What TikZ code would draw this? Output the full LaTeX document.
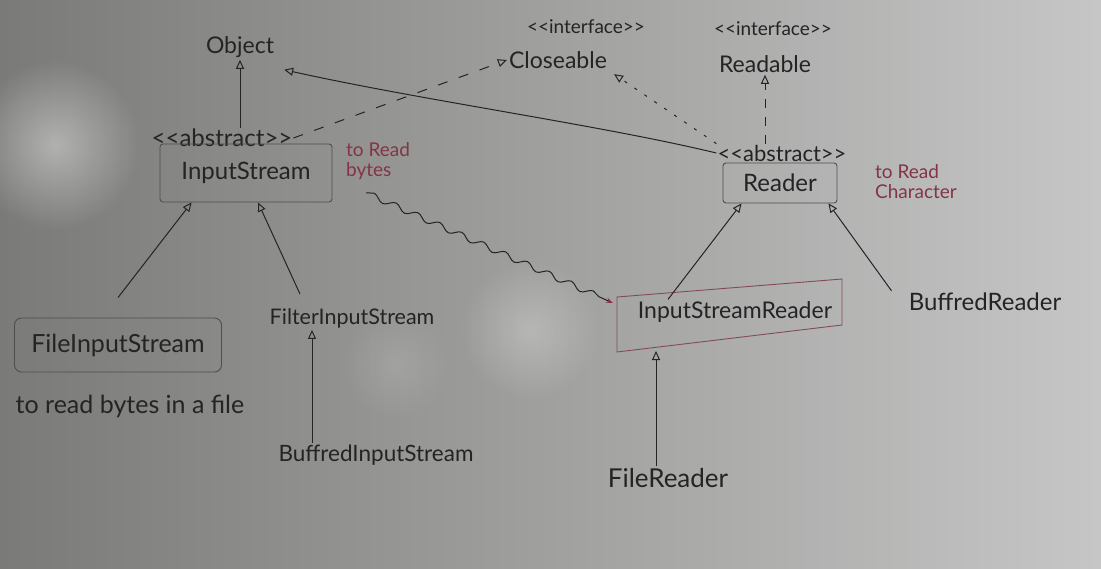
\documentclass[tikz,border=0pt]{standalone}
\usepackage{fontspec}
\setmainfont{Lato}
\usetikzlibrary{arrows.meta,decorations.pathmorphing,fadings}
\definecolor{ink}{RGB}{36,36,36}
\definecolor{boxc}{RGB}{78,78,78}
\definecolor{note}{RGB}{132,52,70}
\definecolor{bgL}{RGB}{122,122,120}
\definecolor{bgR}{RGB}{198,198,198}
\tikzfading[name=glow, inner color=transparent!0, outer color=transparent!100]
\begin{document}
\begin{tikzpicture}[x=1pt,y=-1pt,
  cls/.style={text=ink,font=\fontsize{23}{26}\selectfont,inner sep=2pt},
  stereo/.style={text=ink,font=\fontsize{24}{26}\selectfont,inner sep=1pt},
  small/.style={text=ink,font=\fontsize{19}{21}\selectfont,inner sep=1pt},
  notes/.style={text=note,font=\fontsize{19}{20}\selectfont,align=left,inner sep=1pt},
  box/.style={draw=boxc,line width=0.9pt,rounded corners=3pt},
  link/.style={draw=ink,line width=1pt},
  gen/.style={link,-{Triangle[open,length=9pt,width=8pt]}},
]
\useasboundingbox (0,0) rectangle (1101,568);
\shade[left color=bgL,right color=bgR] (0,0) rectangle (1101,568);
\fill[white,opacity=0.4,path fading=glow] (55,145) circle (85);
\fill[white,opacity=0.25,path fading=glow] (530,330) circle (70);
\fill[white,opacity=0.12,path fading=glow] (395,365) circle (55);

% nodes
\node[cls] (object) at (240,47) {Object};
\node[stereo] (isabs) at (222,138) {<{}<abstract>{}>};
\node[cls,font=\fontsize{24}{26}\selectfont,box,minimum width=172,minimum height=58] (is) at (246,173) {InputStream};
\node[notes] (isnote) at (378,161) {to Read\\bytes};
\node[small] (clst) at (586,27) {<{}<interface>{}>};
\node[cls] (close) at (558,60) {Closeable};
\node[small] (rdst) at (773,29) {<{}<interface>{}>};
\node[cls] (readable) at (765,64) {Readable};
\node[stereo,font=\fontsize{22}{24}\selectfont] (rdabs) at (782,153) {<{}<abstract>{}>};
\node[cls,font=\fontsize{24}{26}\selectfont,box,minimum width=114,minimum height=40] (reader) at (780,183) {Reader};
\node[notes] (rdnote) at (916,182) {to Read\\Character};
\node[cls] (isr) at (735,312) {InputStreamReader};
\draw[draw=note!70!gray,line width=0.9pt] (617,297) -- (842,279) -- (842,325) -- (617,352) -- cycle;
\node[cls,font=\fontsize{24}{26}\selectfont] (bufr) at (985,302) {BuffredReader};
\node[cls,font=\fontsize{26}{28}\selectfont] (fr) at (668,478) {FileReader};
\node[cls,font=\fontsize{25}{27}\selectfont,box,rounded corners=7pt,minimum width=207,minimum height=54] (fis) at (118,345) {FileInputStream};
\node[cls,font=\fontsize{25}{27}\selectfont] (fisnote) at (130,406) {to read bytes in a file};
\node[cls,font=\fontsize{21.5}{23}\selectfont] (filter) at (352,318) {FilterInputStream};
\node[cls,font=\fontsize{22.5}{25}\selectfont] (bis) at (376,455) {BuffredInputStream};
\coordinate (isrB) at (656,351);
\coordinate (isrL) at (613,303);
\coordinate (filtB) at ([xshift=-40]filter.south);

% connectors
\draw[gen] (isabs.north -| object.south) -- (object.south);
\draw[gen] (rdabs.west) .. controls (600,125) and (420,100) .. ([xshift=8,yshift=-10]object.south east);
\draw[gen,dash pattern=on 10pt off 12pt] (isabs.east) -- (close.west);
\draw[gen,dash pattern=on 3pt off 9pt,shorten >=6pt] (rdabs.north west) -- (close.south east);
\draw[gen,dash pattern=on 9pt off 9pt] (rdabs.north -| readable.south) -- (readable.south);
\draw[gen] ([xshift=-67]isr.north) -- ([xshift=19]reader.south west);
\draw[gen] ([xshift=-15]bufr.north west) -- ([xshift=-9]reader.south east);
\draw[gen] (fr.north -| isrB) -- (isrB);
\draw[gen] ([yshift=20]fis.north) -- ([xshift=32]is.south west);
\draw[gen] ([xshift=-52,yshift=12]filter.north) -- ([xshift=12]is.south);
\draw[gen] (bis.north -| filtB) -- (filtB);
\draw[link,decorate,decoration={snake,amplitude=3pt,segment length=24pt,post length=10pt},-{Stealth[length=7pt,color=note]}] ([xshift=-12,yshift=-12]isnote.south) -- (isrL);
\end{tikzpicture}
\end{document}
